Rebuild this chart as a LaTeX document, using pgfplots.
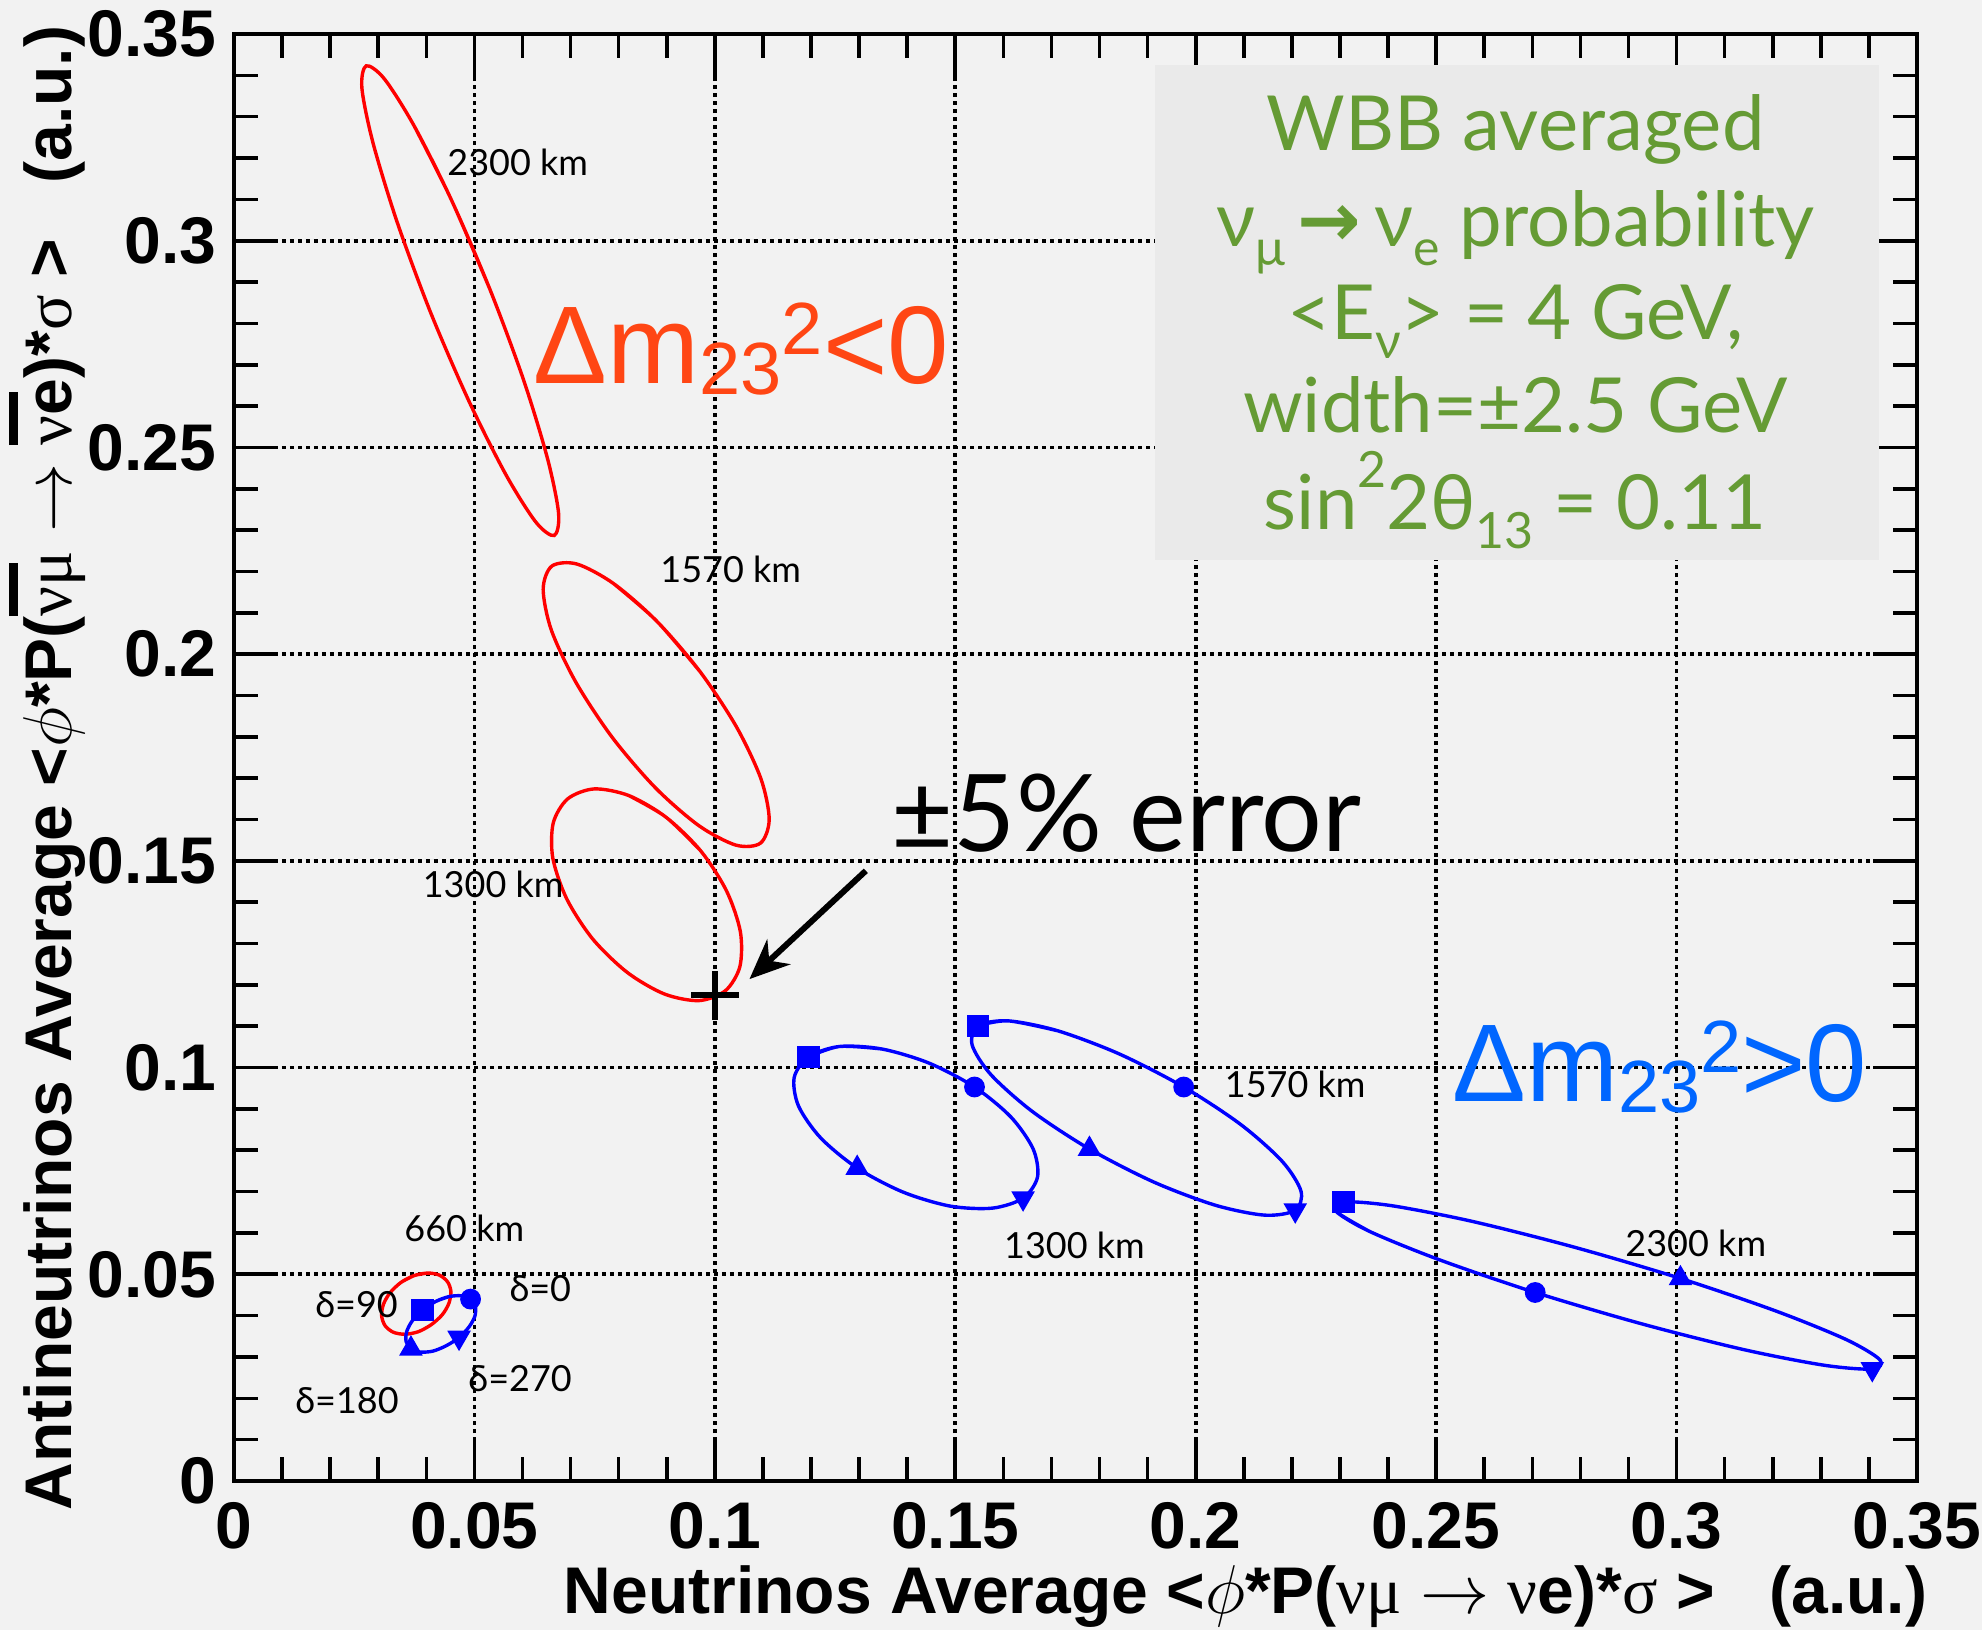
\documentclass[border=0pt]{standalone}
\usepackage{fontspec}
\setmainfont{Liberation Sans}
\newfontfamily\gill{Lato}
\newfontfamily\symf{Liberation Serif}
\newfontfamily\dejavu{DejaVu Sans}
\usepackage{pgfplots}
\pgfplotsset{compat=1.18}
\usetikzlibrary{arrows.meta}

\definecolor{bgc}{HTML}{F2F2F2}
\definecolor{boxc}{HTML}{EAEAEA}
\definecolor{wbbgreen}{RGB}{101,155,52}
\definecolor{dmred}{RGB}{255,70,20}
\definecolor{dmblue}{RGB}{0,102,255}

\newcommand{\sz}[1]{\fontsize{#1}{#1}\selectfont}
\newcommand{\gr}[1]{{\symf\mdseries #1}}
\newcommand{\barnu}{\rlap{\raisebox{0.82em}{\rule{0.8em}{0.14em}}}\gr{ν}}

\begin{document}
\begin{tikzpicture}
\useasboundingbox (-58.5pt,-37.25pt) rectangle (437pt,370.25pt);
\fill[bgc] (-58.5pt,-37.25pt) rectangle (437pt,370.25pt);
\begin{axis}[
    at={(0,0)}, anchor=south west,
    scale only axis,
    width=420.75pt, height=361.75pt,
    xmin=0, xmax=0.35, ymin=0, ymax=0.35,
    xtick={0,0.05,0.1,0.15,0.2,0.25,0.3,0.35},
    ytick={0,0.05,0.1,0.15,0.2,0.25,0.3,0.35},
    xticklabels={0,0.05,0.1,0.15,0.2,0.25,0.3,0.35},
    yticklabels={0,0.05,0.1,0.15,0.2,0.25,0.3,0.35},
    minor tick num=4,
    tick align=inside,
    major tick length=11pt, minor tick length=6pt,
    tick style={black, line width=0.9pt},
    axis line style={line width=1.2pt},
    grid=major,
    major grid style={black, line width=0.9pt, dash pattern=on 0.9pt off 1.1pt},
    /pgf/number format/assume math mode=true,
    ticklabel style={font=\sz{16.5}\bfseries},
    xticklabel style={anchor=north, inner sep=0pt, yshift=-5.2pt},
    yticklabel style={anchor=east, inner sep=0pt, xshift=-4.2pt},
    every axis x label/.style={at={(axis description cs:1.0066,0)}, anchor=base east, yshift=-33pt, inner sep=0pt},
    every axis y label/.style={at={([xshift=-40.5pt,yshift=2.25pt]axis description cs:0,1)}, rotate=90, anchor=base east, inner sep=0pt},
    xlabel={\sz{16.5}\bfseries Neutrinos Average <$\phi$*P(\gr{νμ} $\rightarrow$ \gr{ν}e)*\gr{σ} >~~~(a.u.)},
    ylabel={\sz{16.5}\bfseries Antineutrinos Average <$\phi$*P(\barnu\gr{μ} $\rightarrow$ \barnu e)*\gr{σ} >~~~(a.u.)},
]

% info box
\fill[boxc] (axis cs:0.1916,0.2228) rectangle (axis cs:0.3422,0.3426);

% red ellipses (dm23^2 < 0)
\addplot[red, line width=0.85pt, smooth] coordinates {
 (0.0375,0.3277) (0.0452,0.3099) (0.0532,0.2883) (0.0602,0.2664) (0.0652,0.2473)
 (0.0675,0.2341) (0.0666,0.2287) (0.0628,0.2319) (0.0566,0.2433) (0.0489,0.2611)
 (0.0409,0.2826) (0.0339,0.3046) (0.0289,0.3237) (0.0266,0.3369) (0.0275,0.3423)
 (0.0313,0.3391) (0.0375,0.3277) (0.0452,0.3099) (0.0532,0.2883)};
\addplot[red, line width=0.85pt, smooth] coordinates {
 (0.0789,0.2171) (0.0879,0.2080) (0.0969,0.1958) (0.1045,0.1824) (0.1096,0.1698)
 (0.1113,0.1600) (0.1095,0.1543) (0.1044,0.1538) (0.0967,0.1585) (0.0877,0.1676)
 (0.0787,0.1798) (0.0711,0.1932) (0.0660,0.2058) (0.0643,0.2157) (0.0661,0.2213)
 (0.0713,0.2218) (0.0789,0.2171) (0.0879,0.2080) (0.0969,0.1958)};
\addplot[red, line width=0.85pt, smooth] coordinates {
 (0.0821,0.1658) (0.0898,0.1606) (0.0970,0.1525) (0.1024,0.1428) (0.1053,0.1329)
 (0.1052,0.1244) (0.1022,0.1186) (0.0967,0.1162) (0.0895,0.1178) (0.0818,0.1230)
 (0.0746,0.1311) (0.0692,0.1408) (0.0663,0.1507) (0.0664,0.1592) (0.0694,0.1650)
 (0.0749,0.1674) (0.0821,0.1658) (0.0898,0.1606) (0.0970,0.1525)};
\addplot[red, line width=0.85pt, smooth] coordinates {
 (0.0403,0.0503) (0.0375,0.0497) (0.0348,0.0481) (0.0325,0.0456) (0.0311,0.0428)
 (0.0307,0.0400) (0.0314,0.0376) (0.0331,0.0360) (0.0355,0.0355) (0.0383,0.0361)
 (0.0410,0.0378) (0.0433,0.0402) (0.0447,0.0430) (0.0451,0.0459) (0.0444,0.0482)
 (0.0427,0.0498) (0.0403,0.0503) (0.0375,0.0497) (0.0348,0.0481)};

% blue ellipses (dm23^2 > 0)
\addplot[blue, line width=0.85pt, smooth] coordinates {
 (0.1347,0.1045) (0.1259,0.1051) (0.1195,0.1026) (0.1165,0.0976) (0.1174,0.0907)
 (0.1220,0.0830) (0.1296,0.0757) (0.1391,0.0699) (0.1489,0.0665) (0.1577,0.0660)
 (0.1641,0.0684) (0.1671,0.0735) (0.1662,0.0803) (0.1616,0.0880) (0.1540,0.0953)
 (0.1445,0.1011) (0.1347,0.1045) (0.1259,0.1051) (0.1195,0.1026)};
\addplot[blue, line width=0.85pt, smooth] coordinates {
 (0.1713,0.1089) (0.1610,0.1113) (0.1547,0.1101) (0.1535,0.1055) (0.1574,0.0983)
 (0.1660,0.0894) (0.1779,0.0803) (0.1913,0.0723) (0.2041,0.0667) (0.2144,0.0643)
 (0.2207,0.0655) (0.2219,0.0701) (0.2180,0.0773) (0.2094,0.0862) (0.1975,0.0953)
 (0.1841,0.1033) (0.1713,0.1089) (0.1610,0.1113) (0.1547,0.1101)};
\addplot[blue, line width=0.85pt, smooth] coordinates {
 (0.2361,0.0604) (0.2291,0.0653) (0.2307,0.0675) (0.2407,0.0666) (0.2575,0.0628)
 (0.2786,0.0566) (0.3008,0.0490) (0.3207,0.0411) (0.3353,0.0342) (0.3423,0.0293)
 (0.3407,0.0271) (0.3307,0.0280) (0.3139,0.0318) (0.2928,0.0380) (0.2706,0.0456)
 (0.2507,0.0535) (0.2361,0.0604) (0.2291,0.0653) (0.2307,0.0675)};
\addplot[blue, line width=0.85pt, smooth] coordinates {
 (0.0447,0.0446) (0.0419,0.0434) (0.0392,0.0413) (0.0371,0.0388) (0.0359,0.0361)
 (0.0358,0.0337) (0.0368,0.0320) (0.0387,0.0312) (0.0413,0.0314) (0.0441,0.0327)
 (0.0468,0.0347) (0.0489,0.0373) (0.0501,0.0399) (0.0502,0.0423) (0.0492,0.0440)
 (0.0473,0.0448) (0.0447,0.0446) (0.0419,0.0434) (0.0392,0.0413)};

% delta markers: 0 circle, 90 square, 180 triangle, 270 inverted triangle
\addplot[only marks, blue, mark=*, mark size=2.4pt] coordinates {
 (0.1540,0.0953) (0.1975,0.0953) (0.2706,0.0456) (0.0492,0.0440)};
\addplot[only marks, blue, mark=square*, mark size=2.6pt] coordinates {
 (0.1195,0.1026) (0.1547,0.1101) (0.2307,0.0675) (0.0392,0.0413)};
\addplot[only marks, blue, mark=triangle*, mark size=3pt] coordinates {
 (0.1296,0.0757) (0.1779,0.0803) (0.3008,0.0490) (0.0368,0.0320)};
\addplot[only marks, blue, mark=triangle*, mark size=3pt, mark options={rotate=180}] coordinates {
 (0.1641,0.0684) (0.2207,0.0655) (0.3407,0.0271) (0.0468,0.0347)};

% +-5% error cross
\addplot[black, mark=none, error bars/.cd, x dir=both, x explicit, y dir=both, y explicit,
  error mark=none, error bar style={line width=1.4pt}] coordinates {
 (0.1,0.1175) +- (0.005,0.0059)};

\draw[black, line width=1.5pt, -{Stealth[length=10pt,width=8.5pt]}]
  (axis cs:0.1314,0.1476) -- (axis cs:0.1072,0.1214);
\node[anchor=base west, inner sep=0pt, font=\gill\sz{26.8}] at (axis cs:0.1366,0.1522) {±5\% error};

\node[anchor=base west, inner sep=0pt, text=dmred, font=\sz{27.6}] at (axis cs:0.0622,0.2654)
  {Δm\raisebox{-2.75pt}{\sz{18.5}23}\raisebox{7.25pt}{\sz{18.5}2}<0};
\node[anchor=base west, inner sep=0pt, text=dmblue, font=\sz{27.6}] at (axis cs:0.2532,0.0918)
  {Δm\raisebox{-2.75pt}{\sz{18.5}23}\raisebox{7.25pt}{\sz{18.5}2}>0};

% info text
\begin{scope}[every node/.style={anchor=base, inner sep=0pt, text=wbbgreen, font=\gill\sz{19}}]
\node at (axis cs:0.2665,0.3219) {WBB averaged};
\node at (axis cs:0.2665,0.2985) {ν\raisebox{-0.25em}{\sz{12.5}μ}\,{\dejavu\bfseries →}\,ν\raisebox{-0.25em}{\sz{12.5}e} probability};
\node at (axis cs:0.2665,0.2762) {<E\raisebox{-0.25em}{\sz{12.5}ν}> = 4 GeV,};
\node at (axis cs:0.2665,0.2535) {width=±2.5 GeV};
\node at (axis cs:0.2665,0.2302) {sin\raisebox{0.55em}{\sz{12.5}2}2θ\raisebox{-0.25em}{\sz{12.5}13} = 0.11};
\end{scope}

% labels
\begin{scope}[every node/.style={inner sep=0pt, font=\gill\sz{9}}]
\node at (axis cs:0.0590,0.3189) {2300 km};
\node at (axis cs:0.1033,0.2204) {1570 km};
\node at (axis cs:0.0539,0.1443) {1300 km};
\node at (axis cs:0.0479,0.0610) {660 km};
\node at (axis cs:0.2207,0.0960) {1570 km};
\node at (axis cs:0.1748,0.0571) {1300 km};
\node at (axis cs:0.3040,0.0574) {2300 km};
\node at (axis cs:0.0255,0.0427) {δ=90};
\node at (axis cs:0.0637,0.0465) {δ=0};
\node at (axis cs:0.0595,0.0248) {δ=270};
\node at (axis cs:0.0235,0.0195) {δ=180};
\end{scope}
\end{axis}
\end{tikzpicture}
\end{document}
